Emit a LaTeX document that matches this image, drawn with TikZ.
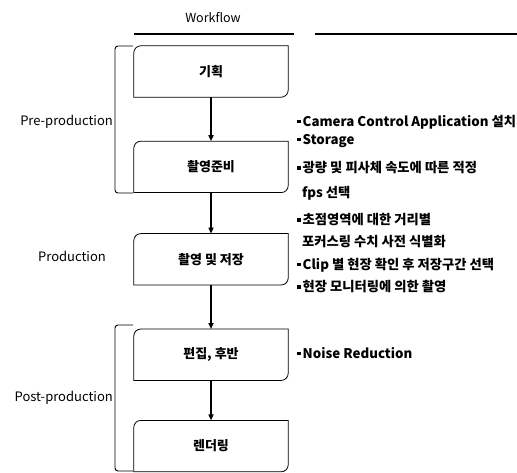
\documentclass[tikz,border=0pt]{standalone}
\usepackage{fontspec}
\setmainfont{Noto Sans CJK KR}
\usepackage{tikz}
\usetikzlibrary{positioning,arrows.meta,calc}

\tikzset{
  stage/.style={minimum width=154pt,minimum height=51pt,inner sep=0pt,font=\fontsize{13}{15}\selectfont\bfseries},
  flow/.style={line width=1.6pt,-{Triangle[length=6pt,width=5pt]}},
  note/.style={anchor=west,inner sep=0pt,font=\fontsize{13.3}{15}\selectfont\bfseries},
  phase/.style={inner sep=0pt,font=\fontsize{13}{15}\selectfont},
  bracket/.style={line width=0.9pt,rounded corners=3pt}
}
\newcommand{\blt}{\rule[3pt]{3.5pt}{3.5pt}\hspace{2pt}}
\newcommand{\stageframe}[1]{%
  \draw[line width=0.8pt] (#1.south west) -- ([yshift=-7pt]#1.north west)
    arc[start angle=180,end angle=90,radius=7pt] -- (#1.north east)
    -- ([yshift=7pt]#1.south east) arc[start angle=0,end angle=-90,radius=7pt] -- cycle;}

\begin{document}
\begin{tikzpicture}[x=1pt,y=1pt]
\useasboundingbox (0,0) rectangle (517,472);
% Heading
\node[phase,font=\fontsize{12.5}{14}\selectfont] (head) at (213,454) {Workflow};
\draw[line width=1.8pt] (134,438) -- (294,438);
\draw[line width=1.8pt] (315,438) -- (517,438);
% Stages
\node[stage] (plan) at (211,400.5) {기획};
\node[stage,below=44pt of plan] (prep) {촬영준비};
\node[stage,below=41pt of prep] (shoot) {촬영 및 저장};
\node[stage,below=44pt of shoot] (edit) {편집, 후반};
\node[stage,below=40pt of edit] (render) {렌더링};
\foreach \n in {plan,prep,shoot,edit,render} {\stageframe{\n}}
\draw[flow] (plan) -- (prep);
\draw[flow] (prep) -- (shoot);
\draw[flow] (shoot) -- (edit);
\draw[flow] (edit) -- (render);
% Phase brackets
\draw[bracket] (133,426) -- (115,426) -- (115,279) -- (133,279);
\draw[bracket] (133,147) -- (115,147) -- (115,1) -- (133,1);
\node[phase,anchor=east] (pre) at (113,350) {Pre-production};
\node[phase] (prod) at (72,216) {Production};
\node[phase,anchor=east] (post) at (113,74) {Post-production};
% Notes
\node[note] (n1) at (297,350) {\blt Camera Control Application 설치};
\node[note] (n2) at (297,331) {\blt Storage};
\node[note] (n3) at (297,304) {\blt 광량 및 피사체 속도에 따른 적정};
\node[note] (n4) at (302,279) {fps 선택};
\node[note] (n5) at (297,252) {\blt 초점영역에 대한 거리별};
\node[note] (n6) at (302,230) {포커스링 수치 사전 식별화};
\node[note] (n7) at (297,207) {\blt Clip 별 현장 확인 후 저장구간 선택};
\node[note] (n8) at (297,185) {\blt 현장 모니터링에 의한 촬영};
\node[note] (n9) at (297,119) {\blt Noise Reduction};
\end{tikzpicture}
\end{document}
